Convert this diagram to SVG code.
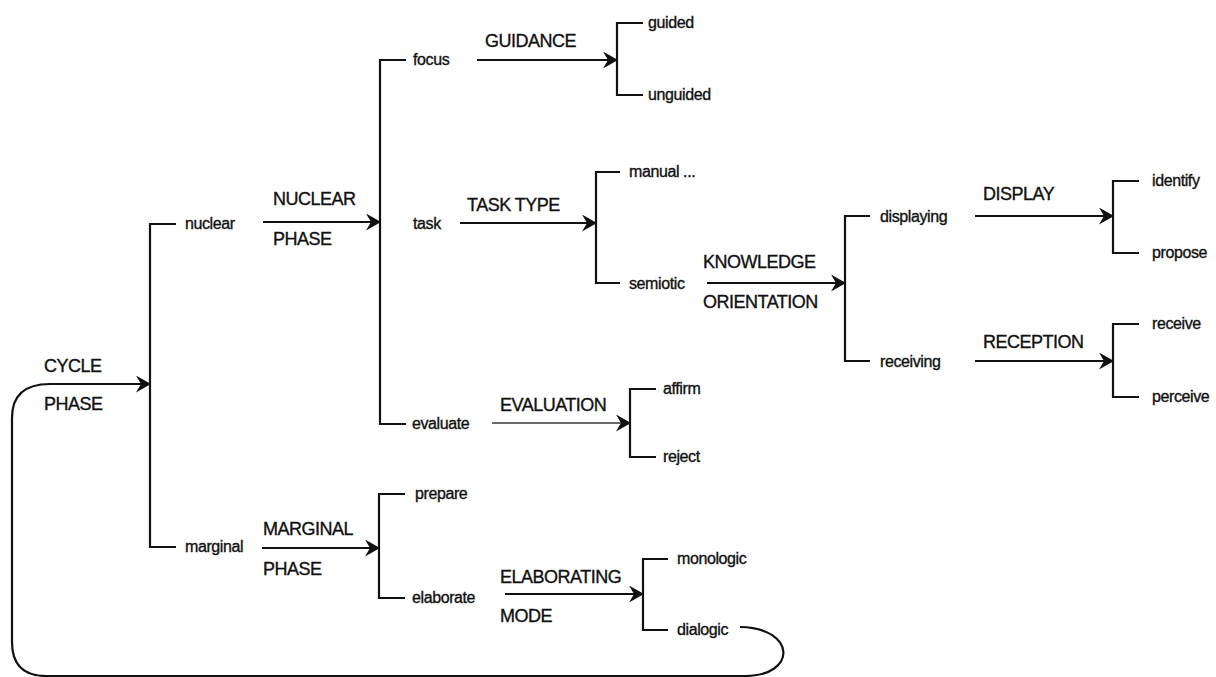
<svg xmlns="http://www.w3.org/2000/svg" width="1216" height="677" viewBox="0 0 1216 677">
  <style>
    .term { font-family: "Liberation Sans", Arial, sans-serif; font-size: 16px; letter-spacing: -0.4px; fill: #111; stroke: #111; stroke-width: 0.35px; }
    .sys { font-family: "Liberation Sans", Arial, sans-serif; font-size: 18px; letter-spacing: -0.5px; fill: #111; stroke: #111; stroke-width: 0.35px; }
    .line { fill: none; stroke: #111; stroke-width: 2.2; }
    .arrow { fill: none; stroke: #111; stroke-width: 2.2; marker-end: url(#head); }
  </style>
  <defs>
    <marker id="head" viewBox="0 0 15 17" refX="14" refY="8.5" markerWidth="15" markerHeight="17" markerUnits="userSpaceOnUse" orient="auto">
      <path d="M0,0 L15,8.5 L0,17 L5,8.5 Z" fill="#111"/>
    </marker>
  </defs>
  <rect width="1216" height="677" fill="#fff"/>

  <!-- brackets, arrows and the cycle loop -->
  <g id="connectors">
    <!-- brackets: vertical spine with a short tick at each end -->
    <path class="line" d="M176,224 H150 V547 H176"/>
    <path class="line" d="M406,60 H380 V424 H406"/>
    <path class="line" d="M643,23 H617 V95 H643"/>
    <path class="line" d="M620,172 H596 V283 H620"/>
    <path class="line" d="M870,216 H845 V361 H870"/>
    <path class="line" d="M1139,181 H1113 V253 H1139"/>
    <path class="line" d="M1139,324 H1113 V397 H1139"/>
    <path class="line" d="M656,389 H630 V457 H656"/>
    <path class="line" d="M405,494 H379 V598 H405"/>
    <path class="line" d="M668,559 H643 V630 H668"/>

    <!-- system arrows -->
    <path class="arrow" d="M263,222 H380"/>
    <path class="arrow" d="M477,60 H617"/>
    <path class="arrow" d="M460,223 H596"/>
    <path class="arrow" d="M707,283 H845"/>
    <path class="arrow" d="M975,216 H1113"/>
    <path class="arrow" d="M975,361 H1113"/>
    <path class="arrow" d="M492,423 H630" style="stroke:#6a6a6a"/>
    <path class="arrow" d="M262,548 H379"/>
    <path class="arrow" d="M505,594 H643"/>

    <!-- recursion loop from dialogic back to the cycle -->
    <path class="arrow" d="M740,627 C797,628 797,676 745,676 L46,676 Q12,676 12,642 L12,418 Q12,384 50,384 L150,384"/>
  </g>

  <!-- system names -->
  <g id="sys-cycle"><text class="sys" x="44" y="372">CYCLE</text><text class="sys" x="44" y="410">PHASE</text></g>
  <g id="sys-nuclear"><text class="sys" x="273" y="205">NUCLEAR</text><text class="sys" x="273" y="245">PHASE</text></g>
  <g id="sys-guidance"><text class="sys" x="485" y="47">GUIDANCE</text></g>
  <g id="sys-tasktype"><text class="sys" x="467" y="211">TASK TYPE</text></g>
  <g id="sys-knowledge"><text class="sys" x="703" y="268">KNOWLEDGE</text><text class="sys" x="703" y="308">ORIENTATION</text></g>
  <g id="sys-display"><text class="sys" x="983" y="200">DISPLAY</text></g>
  <g id="sys-reception"><text class="sys" x="983" y="348">RECEPTION</text></g>
  <g id="sys-evaluation"><text class="sys" x="500" y="411">EVALUATION</text></g>
  <g id="sys-marginal"><text class="sys" x="263" y="535">MARGINAL</text><text class="sys" x="263" y="575">PHASE</text></g>
  <g id="sys-elaborating"><text class="sys" x="500" y="583">ELABORATING</text><text class="sys" x="500" y="622">MODE</text></g>

  <!-- features -->
  <g id="nuclear"><text class="term" x="185" y="229">nuclear</text></g>
  <g id="marginal"><text class="term" x="185" y="552">marginal</text></g>
  <g id="focus"><text class="term" x="413" y="65">focus</text></g>
  <g id="task"><text class="term" x="413" y="229">task</text></g>
  <g id="evaluate"><text class="term" x="412" y="429">evaluate</text></g>
  <g id="guided"><text class="term" x="648" y="28">guided</text></g>
  <g id="unguided"><text class="term" x="648" y="100">unguided</text></g>
  <g id="manual"><text class="term" x="629" y="177">manual ...</text></g>
  <g id="semiotic"><text class="term" x="629" y="289">semiotic</text></g>
  <g id="displaying"><text class="term" x="880" y="222">displaying</text></g>
  <g id="receiving"><text class="term" x="880" y="367">receiving</text></g>
  <g id="identify"><text class="term" x="1152" y="186">identify</text></g>
  <g id="propose"><text class="term" x="1152" y="258">propose</text></g>
  <g id="receive"><text class="term" x="1152" y="329">receive</text></g>
  <g id="perceive"><text class="term" x="1152" y="402">perceive</text></g>
  <g id="affirm"><text class="term" x="663" y="394">affirm</text></g>
  <g id="reject"><text class="term" x="663" y="462">reject</text></g>
  <g id="prepare"><text class="term" x="415" y="499">prepare</text></g>
  <g id="elaborate"><text class="term" x="412" y="603">elaborate</text></g>
  <g id="monologic"><text class="term" x="677" y="564">monologic</text></g>
  <g id="dialogic"><text class="term" x="677" y="635">dialogic</text></g>
</svg>
